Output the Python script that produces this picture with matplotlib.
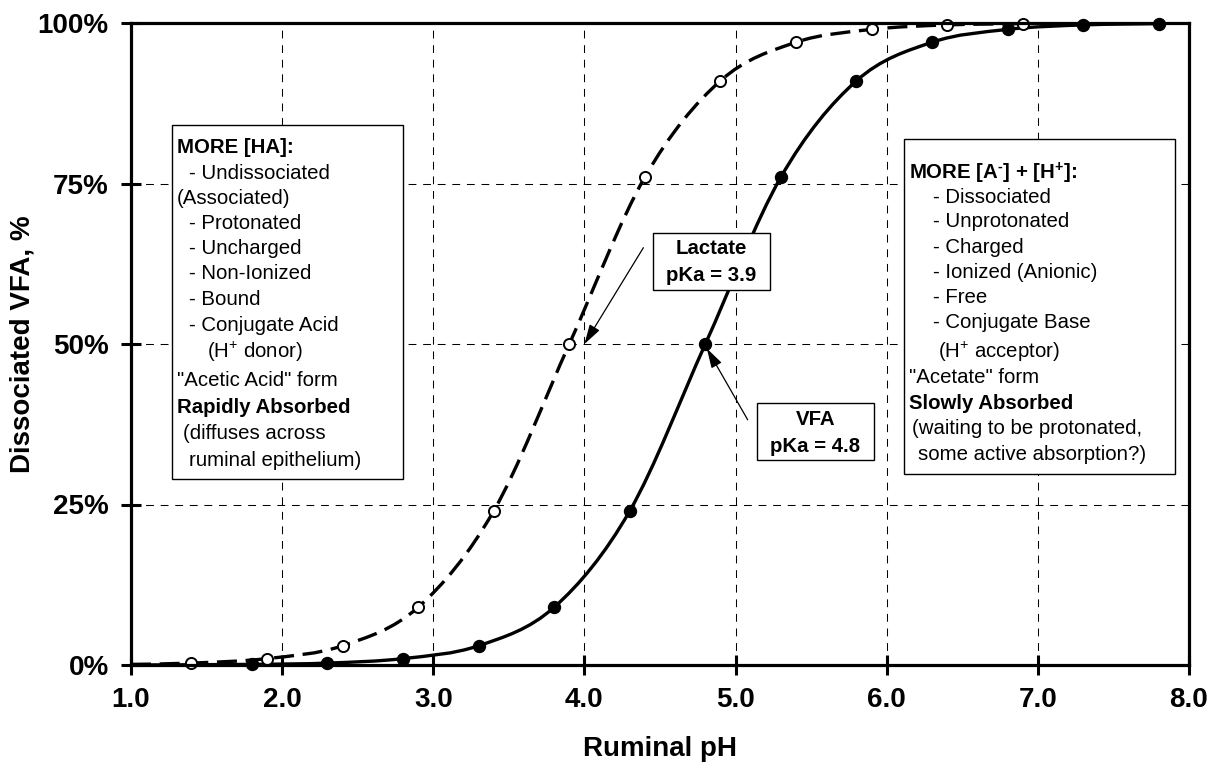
import numpy as np
import matplotlib
matplotlib.use("Agg")
import matplotlib.pyplot as plt
from matplotlib.path import Path
from matplotlib.patches import PathPatch, Rectangle

plt.rcParams['font.family'] = ['Liberation Sans', 'DejaVu Sans']
plt.rcParams['mathtext.default'] = 'regular'

# ---------------- data ----------------
vfa_ph = [1.8, 2.3, 2.8, 3.3, 3.8, 4.3, 4.8, 5.3, 5.8, 6.3, 6.8, 7.3, 7.8]
vfa_pct = [0.1, 0.3, 1.0, 3.0, 9.0, 24.0, 50.0, 76.0, 91.0, 97.0, 99.0, 99.7, 99.9]
lac_ph = [1.4, 1.9, 2.4, 2.9, 3.4, 3.9, 4.4, 4.9, 5.4, 5.9, 6.4, 6.9]
lac_pct = [0.3, 1.0, 3.0, 9.0, 24.0, 50.0, 76.0, 91.0, 97.0, 99.0, 99.7, 99.9]
line_start_ph = 1.0
vfa_start_pct = 0.0
lac_start_pct = 0.1

x_ticks = [1.0, 2.0, 3.0, 4.0, 5.0, 6.0, 7.0, 8.0]
x_ticklabels = ["1.0", "2.0", "3.0", "4.0", "5.0", "6.0", "7.0", "8.0"]
y_ticks = [0, 25, 50, 75, 100]
y_ticklabels = ["0%", "25%", "50%", "75%", "100%"]

left_lines = [
    ("MORE [HA]:", 0, "bold"),
    ("- Undissociated", 1, "normal"),
    ("(Associated)", 0, "normal"),
    ("- Protonated", 1, "normal"),
    ("- Uncharged", 1, "normal"),
    ("- Non-Ionized", 1, "normal"),
    ("- Bound", 1, "normal"),
    ("- Conjugate Acid", 1, "normal"),
    ("(H$^{+}$ donor)", 2, "normal"),
    ('"Acetic Acid" form', 0, "normal"),
    ("Rapidly Absorbed", 0, "bold"),
    ("(diffuses across", 3, "normal"),
    ("ruminal epithelium)", 1, "normal"),
]
right_lines = [
    ("MORE [A$^{\u2010}$] + [H$^{+}$]:", 0, "bold"),
    ("- Dissociated", 1, "normal"),
    ("- Unprotonated", 1, "normal"),
    ("- Charged", 1, "normal"),
    ("- Ionized (Anionic)", 1, "normal"),
    ("- Free", 1, "normal"),
    ("- Conjugate Base", 1, "normal"),
    ("(H$^{+}$ acceptor)", 2, "normal"),
    ('"Acetate" form', 0, "normal"),
    ("Slowly Absorbed", 0, "bold"),
    ("(waiting to be protonated,", 3, "normal"),
    ("some active absorption?)", 4, "normal"),
]

# ---------------- figure ----------------
W, H = 1210, 763
fig = plt.figure(figsize=(W / 100, H / 100), dpi=100)
AX_L, AX_R, AX_T, AX_B = 131, 1189, 23, 665
ax = fig.add_axes([AX_L / W, (H - AX_B) / H, (AX_R - AX_L) / W, (AX_B - AX_T) / H])


def fx(x):
    return x / W


def fy(y):
    return 1 - y / H


def smooth_path(xs, ys):
    pts = np.column_stack([xs, ys]).astype(float)
    n = len(pts)
    verts = [pts[0]]
    codes = [Path.MOVETO]
    for i in range(n - 1):
        p0 = pts[i - 1] if i > 0 else pts[i]
        p1 = pts[i]
        p2 = pts[i + 1]
        p3 = pts[i + 2] if i + 2 < n else pts[i + 1]
        c1 = p1 + (p2 - p0) / 6.0
        c2 = p2 - (p3 - p1) / 6.0
        verts += [c1, c2, p2]
        codes += [Path.CURVE4] * 3
    return Path(verts, codes)


ax.set_xlim(1, 8)
ax.set_ylim(0, 100)

# grid
ax.set_xticks(x_ticks)
ax.set_xticklabels(x_ticklabels)
ax.set_yticks(y_ticks)
ax.set_yticklabels(y_ticklabels)
ax.grid(True, color="black", lw=0.75, linestyle=(0, (7.5, 6.5)), zorder=0)
ax.set_axisbelow(True)

for s in ax.spines.values():
    s.set_linewidth(2.3)
    s.set_color("black")
    s.set_zorder(6)

ax.tick_params(axis="both", direction="inout", length=14, width=2.2, color="black",
               labelsize=20, pad=9)
for lab in ax.get_xticklabels() + ax.get_yticklabels():
    lab.set_fontweight("bold")

# curves
vfa_path = smooth_path([line_start_ph] + vfa_ph, [vfa_start_pct] + vfa_pct)
lac_path = smooth_path([line_start_ph] + lac_ph, [lac_start_pct] + lac_pct)
ax.add_patch(PathPatch(vfa_path, facecolor="none", edgecolor="black", lw=2.4,
                       zorder=3, clip_on=False, capstyle="butt"))
ax.add_patch(PathPatch(lac_path, facecolor="none", edgecolor="black", lw=2.4,
                       linestyle=(0, (6.0, 2.6)), zorder=3, clip_on=False,
                       capstyle="butt"))
ax.plot(vfa_ph, vfa_pct, "o", ms=8.6, mfc="black", mec="black", mew=1.0,
        zorder=5, clip_on=False)
ax.plot(lac_ph, lac_pct, "o", ms=8.0, mfc="white", mec="black", mew=1.4,
        zorder=5, clip_on=False)

ax.set_xlabel("Ruminal pH", fontsize=20, fontweight="bold")
ax.xaxis.set_label_coords(0.5, (AX_B - 756) / (AX_B - AX_T))
ax.xaxis.label.set_va("baseline")
ax.set_ylabel("Dissociated VFA, %", fontsize=20, fontweight="bold", va="center")
ax.yaxis.set_label_coords((23 - AX_L) / (AX_R - AX_L), 0.5)

# ---------------- boxes ----------------
def box(x0, y0, x1, y1, z=7):
    r = Rectangle((fx(x0), fy(y1)), fx(x1) - fx(x0), fy(y0) - fy(y1),
                  transform=fig.transFigure, facecolor="white", edgecolor="black",
                  lw=1.0, zorder=z)
    fig.add_artist(r)


FS = 14.7
# left box
box(172, 125, 403, 479)
left_x = [177, 189, 207, 183]
left_y = [147, 173, 198, 223, 248, 273, 299, 325, 352, 380, 407, 433, 460]
for (t, ind, w), yc in zip(left_lines, left_y):
    fig.text(fx(left_x[ind]), fy(yc + 6), t, fontsize=FS, fontweight=w,
             ha="left", va="baseline", zorder=8)

# right box
box(904, 139, 1175, 474)
right_x = [909, 933, 938, 912, 918]
right_y = [173, 197, 221, 247, 272, 297, 322, 352, 377, 403, 428, 454]
for (t, ind, w), yc in zip(right_lines, right_y):
    fig.text(fx(right_x[ind]), fy(yc + 6), t, fontsize=FS, fontweight=w,
             ha="left", va="baseline", zorder=8)

# pKa labels
box(653, 233, 770, 290)
fig.text(fx(711.5), fy(248 + 6), "Lactate", fontsize=FS, fontweight="bold",
         ha="center", va="baseline", zorder=8)
fig.text(fx(711.5), fy(275 + 6), "pKa = 3.9", fontsize=FS, fontweight="bold",
         ha="center", va="baseline", zorder=8)

box(757, 403, 874, 460)
fig.text(fx(815.5), fy(419 + 6), "VFA", fontsize=FS, fontweight="bold",
         ha="center", va="baseline", zorder=8)
fig.text(fx(815.5), fy(446 + 6), "pKa = 4.8", fontsize=FS, fontweight="bold",
         ha="center", va="baseline", zorder=8)

arrow = dict(arrowstyle="-|>,head_length=0.75,head_width=0.22", color="black",
             lw=0.9, mutation_scale=16, shrinkA=0, shrinkB=0)
ax.annotate("", xy=(4.0, 50.0), xytext=(4.39, 65.0), arrowprops=arrow, zorder=9)
ax.annotate("", xy=(4.81, 49.3), xytext=(5.08, 38.2), arrowprops=arrow, zorder=9)

fig.savefig("out.png", dpi=100)
